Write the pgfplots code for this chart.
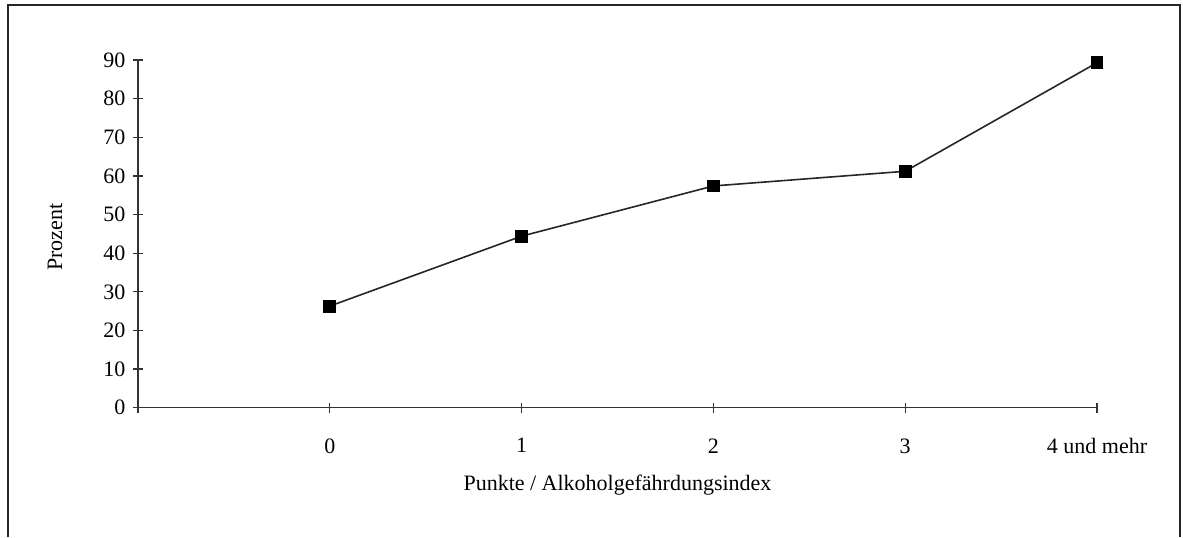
\documentclass[border=0pt]{standalone}
\usepackage{pgfplots}
\pgfplotsset{compat=1.18}
\usepackage{fontspec}
\setmainfont{Liberation Serif}
\begin{document}
\fontsize{11}{13}\selectfont
\begin{tikzpicture}
\useasboundingbox (-69pt,-64.65pt) rectangle (522.5pt,203.85pt);
\draw[line width=0.8pt,black!85] (-65pt,-64.65pt) -- (-65pt,201.35pt) -- (521pt,201.35pt) -- (521pt,-64.65pt);
\begin{axis}[
  at={(0pt,0pt)}, anchor=south west,
  scale only axis,
  width=479.5pt, height=173.85pt,
  xmin=-1, xmax=4, ymin=0, ymax=90,
  axis lines=left,
  axis line style={-, black!80, line width=0.6pt},
  xtick={-1,0,1,2,3,4},
  xticklabels={,0,1,2,3,4 und mehr},
  ytick={0,10,...,90},
  tick align=center,
  major tick length=5pt,
  tick style={black!80, line width=0.6pt},
  /pgf/number format/assume math mode=true,
  tick label style={font=\fontsize{11}{13}\selectfont},
  xticklabel style={yshift=-9pt},
  xlabel={Punkte / Alkoholgefährdungsindex},
  ylabel={Prozent},
  xlabel style={at={(axis description cs:0.5,-0.2215)}, anchor=center, font=\fontsize{11}{13}\selectfont},
  ylabel style={at={(axis description cs:-0.0866,0.49)}, anchor=center, rotate=0, font=\fontsize{11}{13}\selectfont},
  clip=false,
]
\addplot[black!85, line width=0.8pt, mark=square*, mark size=2.8pt, mark options={fill=black, draw=black}]
  coordinates {(0,26.3) (1,44.4) (2,57.4) (3,61.2) (4,89.3)};
\end{axis}
\end{tikzpicture}
\end{document}
